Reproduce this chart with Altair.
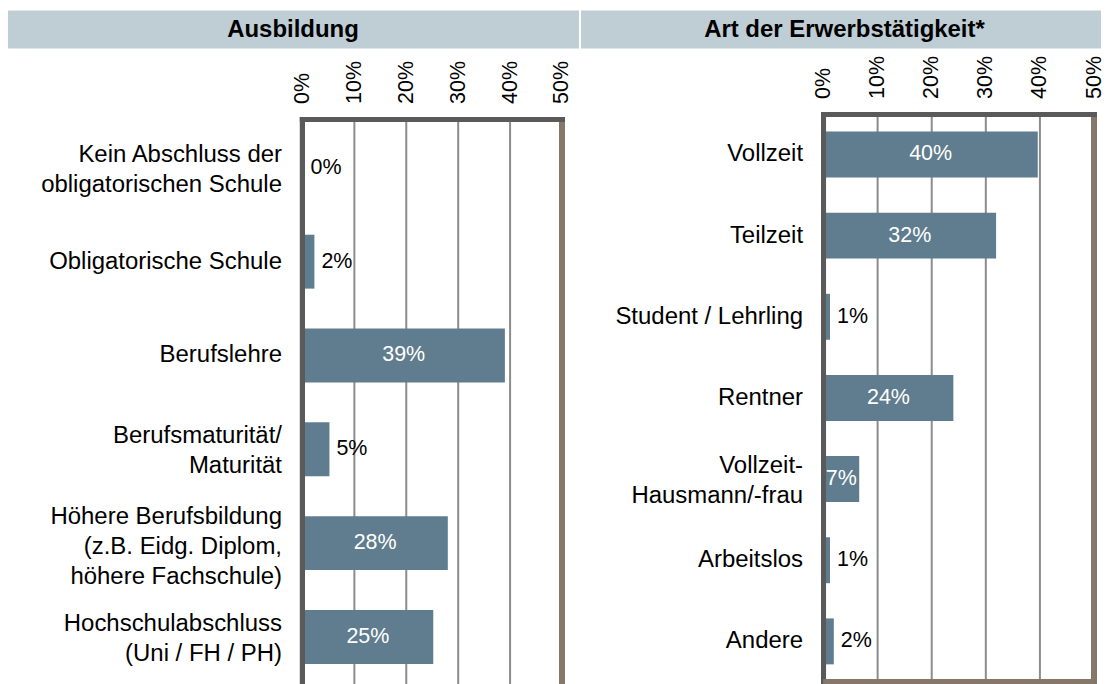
import altair as alt
import pandas as pd

FONT = "Liberation Sans"
BAR = "#5F7D8E"
HEAD = "#BFCDD4"
GRID = "#8C8C8C"
DARK = "#5A5A5A"
BROWN = "#85776A"

tick_values = [0, 10, 20, 30, 40, 50]

left_title = "Ausbildung"
left_cats = [
    "Kein Abschluss der|obligatorischen Schule",
    "Obligatorische Schule",
    "Berufslehre",
    "Berufsmaturität/|Maturität",
    "Höhere Berufsbildung|(z.B. Eidg. Diplom,|höhere Fachschule)",
    "Hochschulabschluss|(Uni / FH / PH)",
]
left_vals = [0.2, 2.3, 39.0, 5.2, 28.0, 25.2]

right_title = "Art der Erwerbstätigkeit*"
right_cats = [
    "Vollzeit",
    "Teilzeit",
    "Student / Lehrling",
    "Rentner",
    "Vollzeit-|Hausmann/-frau",
    "Arbeitslos",
    "Andere",
]
right_vals = [39.6, 31.9, 1.2, 24.0, 6.6, 1.2, 1.9]


def panel(title, cats, vals, width, top, height, p_in, p_out, head, head_txt,
          lab_pad, bottom):
    df = pd.DataFrame({"cat": cats, "val": vals})
    df["label"] = [f"{int(round(v))}%" for v in vals]
    df["mid"] = df["val"] / 2

    xscale = alt.Scale(domain=[0, 50], nice=False, zero=True)
    yscale = alt.Scale(paddingInner=p_in, paddingOuter=p_out, range=[top, height])

    x_axis = alt.Axis(
        orient="top", values=tick_values, labelExpr="datum.value + '%'",
        labelAngle=270, labelFontSize=21.5, labelFont=FONT, labelColor="#000000",
        labelPadding=lab_pad, domain=False, ticks=False, tickSize=0, grid=False,
        title=None,
    )
    y_axis = alt.Axis(
        title=None, domain=False, ticks=False, tickSize=0, labelPadding=21,
        labelFontSize=24, labelFont=FONT, labelColor="#000000",
        labelExpr="split(datum.label, '|')", labelLineHeight=30, labelLimit=500,
        labelOffset={
            "condition": [
                {"test": "length(split(datum.label, '|')) == 3", "value": -26},
                {"test": "length(split(datum.label, '|')) == 2", "value": -13},
            ],
            "value": 0,
        },
    )

    base = alt.Chart(df)
    y_enc = alt.Y("cat:N", sort=cats, scale=yscale, axis=y_axis)

    grid = alt.Chart(pd.DataFrame({"g": tick_values})).mark_rule(
        color=GRID, strokeWidth=2
    ).encode(
        x=alt.X("g:Q", scale=xscale, axis=x_axis),
        y=alt.value(top), y2=alt.value(height),
    )
    bars = base.mark_bar(color=BAR).encode(x=alt.X("val:Q", title=None), y=y_enc)
    inside = base.transform_filter("datum.val >= 6").mark_text(
        color="#FFFFFF", fontSize=21.5, font=FONT
    ).encode(x=alt.X("mid:Q", title=None), y=alt.Y("cat:N", sort=cats), text="label:N")
    outside = base.transform_filter("datum.val < 6").mark_text(
        color="#000000", fontSize=21.5, font=FONT, align="left", dx=7
    ).encode(x=alt.X("val:Q", title=None), y=alt.Y("cat:N", sort=cats), text="label:N")

    hdata = alt.Data(values=[{"t": title}])
    header = alt.Chart(hdata).mark_rect(color=HEAD).encode(
        x=alt.value(head[0]), x2=alt.value(head[1]),
        y=alt.value(head[2]), y2=alt.value(head[3]),
    )
    header_text = alt.Chart(hdata).mark_text(
        font=FONT, fontSize=24, fontWeight="bold", color="#000000", baseline="middle"
    ).encode(x=alt.value(head_txt[0]), y=alt.value(head_txt[1]), text="t:N")

    left_rule = base.mark_rule(color=DARK, strokeWidth=5, strokeCap="square").encode(
        x=alt.datum(0), y=alt.value(top), y2=alt.value(height)
    )
    top_rule = base.mark_rule(color=DARK, strokeWidth=5, strokeCap="square").encode(
        x=alt.datum(0), x2=alt.datum(50), y=alt.value(top)
    )
    right_rule = base.mark_rule(color=BROWN, strokeWidth=5, strokeCap="square").encode(
        x=alt.datum(50), y=alt.value(top), y2=alt.value(height)
    )
    layers = [header, header_text, grid, bars, inside, outside, left_rule, right_rule, top_rule]
    if bottom:
        bottom_rule = base.mark_rule(color=BROWN, strokeWidth=4).encode(
            x=alt.datum(0), x2=alt.datum(50), y=alt.value(height)
        )
        layers.append(bottom_rule)
    return alt.layer(*layers).properties(width=width, height=height)


left = panel(left_title, left_cats, left_vals, 260, 5, 572, 0.4255, 0.229,
             (-295, 277, -104, -66), (-9.5, -85), 11, False)
right = panel(right_title, right_cats, right_vals, 271, 0, 568, 0.434, 0.21,
              (-243, 278, -104, -66), (21, -85), 16, True)

chart = alt.hconcat(left, right, spacing=2).properties(
    padding={"left": 0, "top": 2, "right": 0, "bottom": 0}
).configure_view(strokeWidth=0)

chart.save("out.html", embed_options={"renderer": "svg", "actions": False})
